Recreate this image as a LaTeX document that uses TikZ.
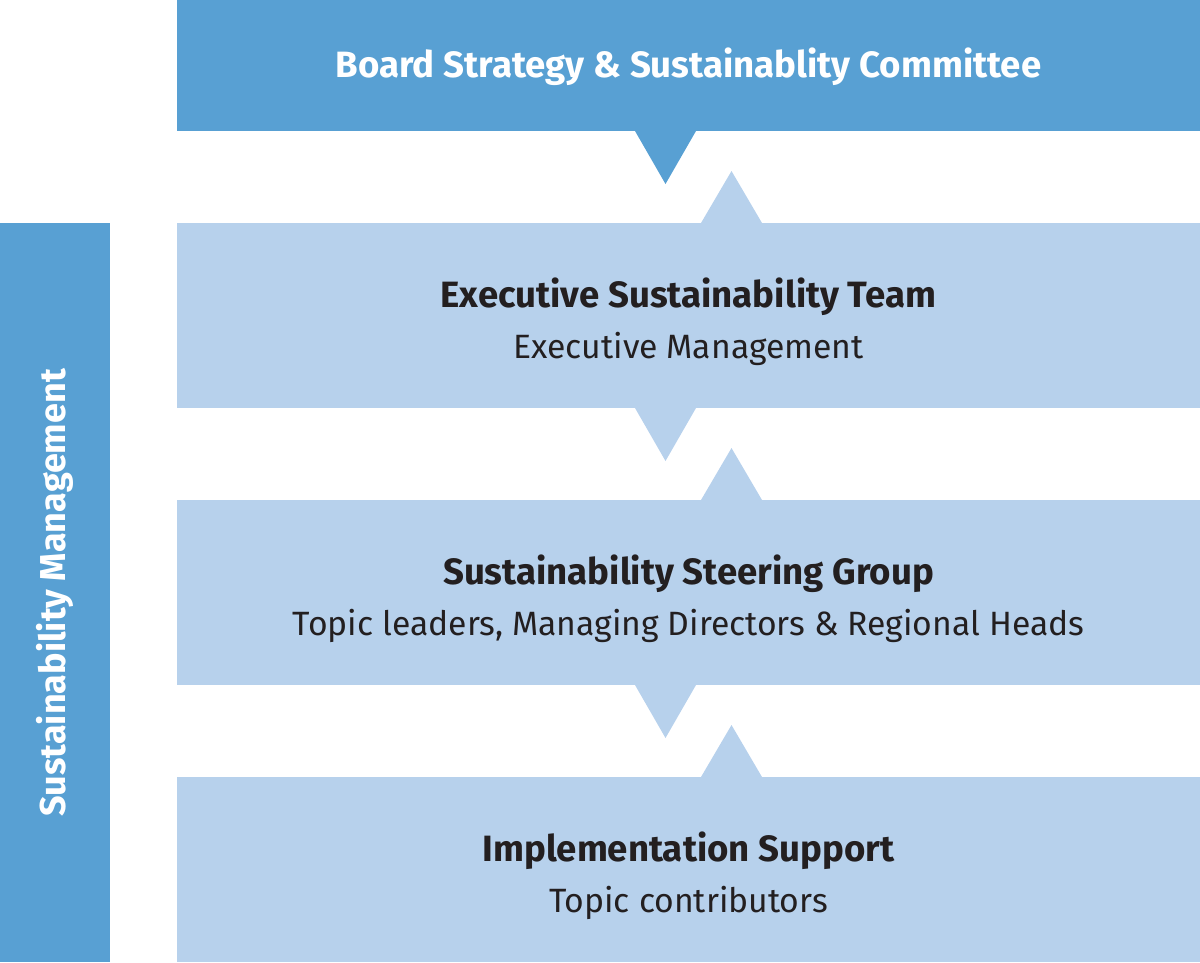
\documentclass[tikz,border=0pt]{standalone}
\usepackage{fontspec}
\setmainfont{Fira Sans}
\definecolor{darkblue}{HTML}{58A0D3}
\definecolor{lightblue}{HTML}{B7D1EC}
\definecolor{txt}{HTML}{231F20}
\begin{document}
\begin{tikzpicture}[x=1pt,y=-1pt,
  panel/.style={rectangle,inner sep=0pt,outer sep=0pt,anchor=north west,minimum width=1023pt},
  headtxt/.style={font=\fontsize{36.6}{40}\selectfont\bfseries,text=txt,anchor=base,inner sep=0pt},
  subtxt/.style={font=\fontsize{33.7}{40}\selectfont,text=txt,anchor=base,inner sep=0pt}]
\useasboundingbox (0,0) rectangle (1200,962);
% boxes
\node[panel,fill=darkblue,minimum height=131pt] (board) at (177,0) {};
\node[panel,fill=lightblue,minimum height=185pt] (exec) at (177,223) {};
\node[panel,fill=lightblue,minimum height=185pt] (steer) at (177,500) {};
\node[panel,fill=lightblue,minimum height=185pt] (impl) at (177,777) {};
\node[rectangle,inner sep=0pt,outer sep=0pt,anchor=north west,fill=darkblue,minimum width=110pt,minimum height=739pt] (side) at (0,223) {};
% triangles
\fill[darkblue] (635,131) -- (696,131) -- (665.5,184) -- cycle;
\fill[lightblue] (701,223) -- (762,223) -- (731.5,171) -- cycle;
\fill[lightblue] (635,408) -- (696,408) -- (665.5,461) -- cycle;
\fill[lightblue] (701,500) -- (762,500) -- (731.5,448) -- cycle;
\fill[lightblue] (635,685) -- (696,685) -- (665.5,738) -- cycle;
\fill[lightblue] (701,777) -- (762,777) -- (731.5,725) -- cycle;
% texts
\node[headtxt,text=white] (t0) at (688.5,77) {Board Strategy \& Sustainablity Committee};
\node[headtxt] (t1) at (688.5,307) {Executive Sustainability Team};
\node[subtxt] (s1) at (688.5,358) {Executive Management};
\node[headtxt] (t2) at (688.5,584) {Sustainability Steering Group};
\node[subtxt] (s2) at (688.5,635) {Topic leaders, Managing Directors \& Regional Heads};
\node[headtxt] (t3) at (688.5,861) {Implementation Support};
\node[subtxt] (s3) at (688.5,912) {Topic contributors};
\node[font=\fontsize{36}{40}\selectfont\bfseries,text=white,rotate=90,anchor=base,inner sep=0pt] (sl) at (65,593) {Sustainability Management};
\end{tikzpicture}
\end{document}
